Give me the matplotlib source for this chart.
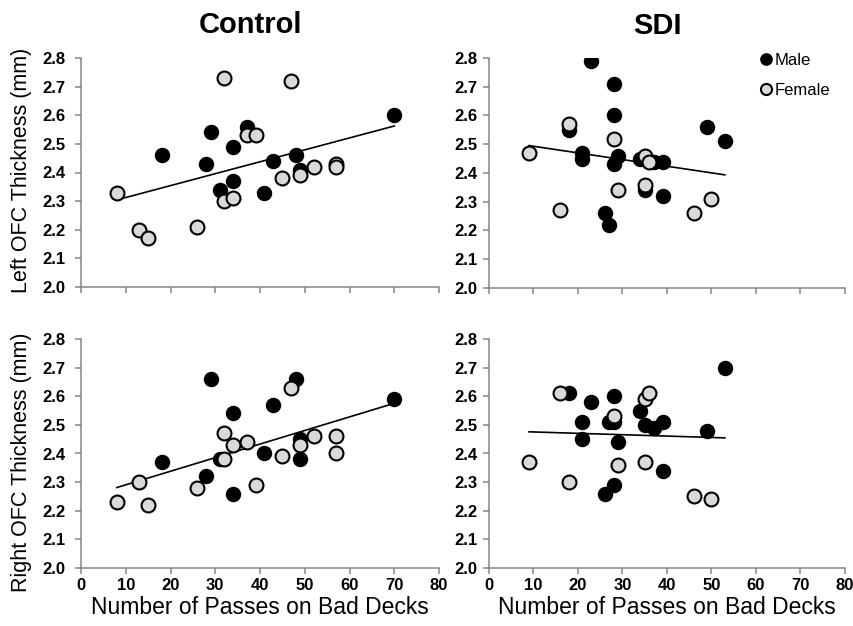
import matplotlib
matplotlib.use("Agg")
import matplotlib.pyplot as plt
import numpy as np

plt.rcParams['font.family'] = ['Liberation Sans', 'DejaVu Sans']

# --- Data ---
# Control group, left OFC
ctl_left_male_x = [18, 29, 28, 37, 34, 31, 34, 41, 43, 48, 49, 70]
ctl_left_male_y = [2.46, 2.54, 2.43, 2.56, 2.49, 2.34, 2.37, 2.33, 2.44, 2.46, 2.41, 2.60]
ctl_left_female_x = [8, 32, 47, 37, 39, 13, 15, 26, 32, 34, 45, 49, 52, 57, 57]
ctl_left_female_y = [2.33, 2.73, 2.72, 2.53, 2.53, 2.20, 2.17, 2.21, 2.30, 2.31, 2.38, 2.39, 2.42, 2.43, 2.42]

# Control group, right OFC
ctl_right_male_x = [18, 28, 29, 34, 31, 34, 41, 43, 48, 49, 49, 70]
ctl_right_male_y = [2.37, 2.32, 2.66, 2.54, 2.38, 2.26, 2.40, 2.57, 2.66, 2.45, 2.38, 2.59]
ctl_right_female_x = [8, 13, 15, 26, 32, 32, 34, 37, 39, 45, 47, 49, 52, 57, 57]
ctl_right_female_y = [2.23, 2.30, 2.22, 2.28, 2.47, 2.38, 2.43, 2.44, 2.29, 2.39, 2.63, 2.43, 2.46, 2.46, 2.40]

# SDI group, left OFC
sdi_left_male_x = [23, 28, 28, 18, 21, 21, 29, 28, 34, 37, 39, 35, 39, 26, 27, 49, 53]
sdi_left_male_y = [2.79, 2.71, 2.60, 2.55, 2.47, 2.45, 2.46, 2.43, 2.45, 2.44, 2.44, 2.34, 2.32, 2.26, 2.22, 2.56, 2.51]
sdi_left_female_x = [9, 18, 28, 16, 29, 35, 36, 35, 46, 50]
sdi_left_female_y = [2.47, 2.57, 2.52, 2.27, 2.34, 2.46, 2.44, 2.36, 2.26, 2.31]

# SDI group, right OFC
sdi_right_male_x = [18, 23, 28, 21, 21, 27, 28, 29, 34, 35, 37, 39, 39, 26, 28, 49, 53]
sdi_right_male_y = [2.61, 2.58, 2.60, 2.51, 2.45, 2.51, 2.51, 2.44, 2.55, 2.50, 2.49, 2.51, 2.34, 2.26, 2.29, 2.48, 2.70]
sdi_right_female_x = [9, 16, 18, 28, 29, 35, 36, 35, 46, 50]
sdi_right_female_y = [2.37, 2.61, 2.30, 2.53, 2.36, 2.59, 2.61, 2.37, 2.25, 2.24]

x_ticks = [0, 10, 20, 30, 40, 50, 60, 70, 80]
y_ticks = [2.0, 2.1, 2.2, 2.3, 2.4, 2.5, 2.6, 2.7, 2.8]

W, H = 854, 626
fig = plt.figure(figsize=(W / 100, H / 100), dpi=100)

def px_rect(x0, x1, ytop, ybot):
    # pixel box -> figure fraction
    return [x0 / W, 1 - ybot / H, (x1 - x0) / W, (ybot - ytop) / H]

ax_tl = fig.add_axes(px_rect(81, 439, 58, 287))
ax_tr = fig.add_axes(px_rect(489, 845, 58, 288))
ax_bl = fig.add_axes(px_rect(81, 439, 339, 568))
ax_br = fig.add_axes(px_rect(489, 845, 339, 568))

panels = [
    (ax_tl, ctl_left_male_x, ctl_left_male_y, ctl_left_female_x, ctl_left_female_y),
    (ax_tr, sdi_left_male_x, sdi_left_male_y, sdi_left_female_x, sdi_left_female_y),
    (ax_bl, ctl_right_male_x, ctl_right_male_y, ctl_right_female_x, ctl_right_female_y),
    (ax_br, sdi_right_male_x, sdi_right_male_y, sdi_right_female_x, sdi_right_female_y),
]

axis_gray = '#868686'

for ax, mx, my, fx, fy in panels:
    # linear trend through all subjects
    allx = np.array(mx + fx, dtype=float)
    ally = np.array(my + fy, dtype=float)
    slope, icpt = np.polyfit(allx, ally, 1)
    xs = np.array([allx.min(), allx.max()])
    ax.plot(xs, slope * xs + icpt, color='black', lw=1.2, zorder=2)

    ax.plot(mx, my, 'o', ms=10, mfc='black', mec='black', mew=1.1,
            ls='none', label='Male', zorder=3)
    ax.plot(fx, fy, 'o', ms=10, mfc='#d9d9d9', mec='black', mew=1.5,
            ls='none', label='Female', zorder=4)

    ax.set_xlim(0, 80)
    ax.set_ylim(2.0, 2.8)
    ax.set_xticks(x_ticks)
    ax.set_yticks(y_ticks)
    ax.set_yticklabels([f"{v:.1f}" for v in y_ticks])
    for s in ['top', 'right']:
        ax.spines[s].set_visible(False)
    for s in ['left', 'bottom']:
        ax.spines[s].set_color(axis_gray)
        ax.spines[s].set_linewidth(1.1)
    ax.tick_params(direction='out', length=4, width=1.1, color=axis_gray,
                   labelsize=12)
    ax.tick_params(axis='x', pad=3.5)
    for lab in ax.get_xticklabels() + ax.get_yticklabels():
        lab.set_fontweight('bold')

# top row has no x tick labels
ax_tl.tick_params(axis='x', labelbottom=False)
ax_tr.tick_params(axis='x', labelbottom=False)
ax_tl.tick_params(axis='y', pad=7)
ax_bl.tick_params(axis='y', pad=7)
ax_tr.tick_params(axis='y', pad=4.5)
ax_br.tick_params(axis='y', pad=4.5)

# axis labels
ax_tl.set_ylabel("Left OFC Thickness (mm)", fontsize=15.5, va='center')
ax_tl.yaxis.set_label_coords((22 - 81) / 358, (287 - 170) / 229)
ax_bl.set_ylabel("Right OFC Thickness (mm)", fontsize=15.5, va='center')
ax_bl.yaxis.set_label_coords((22 - 81) / 358, (568 - 462) / 229)
for ax in [ax_bl, ax_br]:
    ax.set_xlabel("Number of Passes on Bad Decks", fontsize=16.5, va='center')
    ax.xaxis.set_label_coords(0.5, (568 - 607) / 229)

# column titles
fig.text(251 / W, 1 - 25 / H, "Control", fontsize=21, fontweight='bold',
         ha='center', va='center')
fig.text(657 / W, 1 - 26 / H, "SDI", fontsize=21, fontweight='bold',
         ha='center', va='center')

# legend
ax_tr.legend(loc='upper left', bbox_to_anchor=((761 - 489) / 356, (288 - 54) / 229),
             frameon=False, fontsize=12, handlelength=0.6, handletextpad=0.2,
             borderpad=0, borderaxespad=0, labelspacing=0.9, markerscale=0.8)

fig.savefig("out.png", dpi=100)
